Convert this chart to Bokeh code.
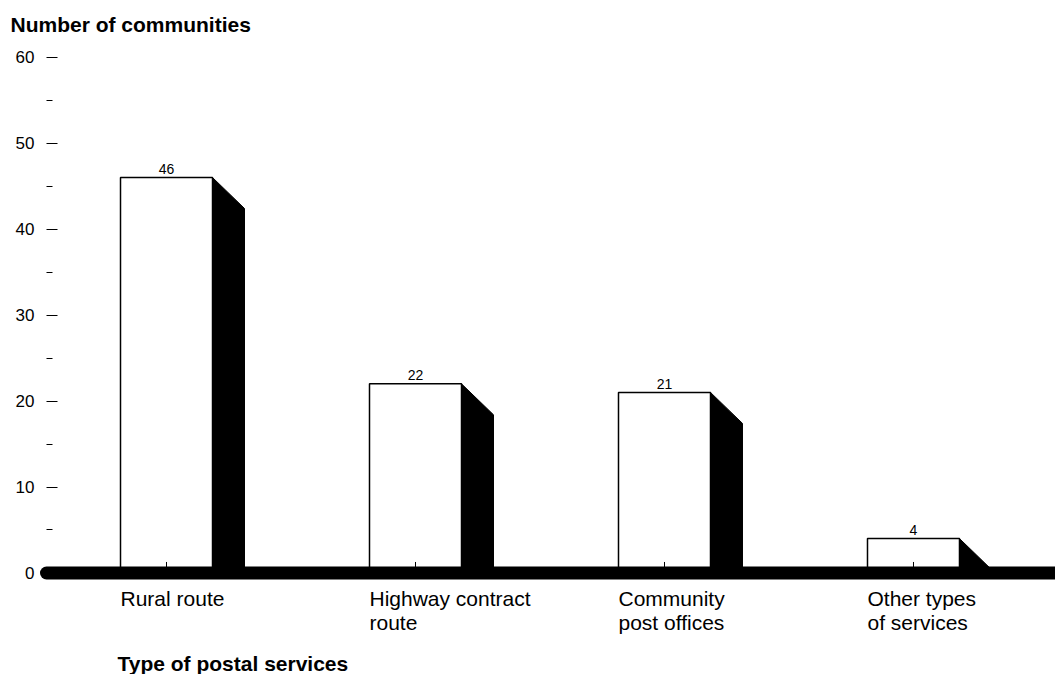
from bokeh.plotting import figure
from bokeh.models import FixedTicker, Range1d, ColumnDataSource
from bokeh.core.properties import value
from bokeh.embed import file_html
from bokeh.resources import INLINE

# ---- data ----
categories = ["Rural route", "Highway contract\nroute", "Community\npost offices", "Other types\nof services"]
counts = [46, 22, 21, 4]
y_ticks = [0, 10, 20, 30, 40, 50, 60]
y_minor_ticks = [5, 15, 25, 35, 45, 55]
y_title = "Number of communities"
x_title = "Type of postal services"

FONT = "Liberation Sans"

# geometry (data units)
BAR_W = 0.3695        # bar width in category units
SHADOW_W = 0.1285     # shadow width
SHADOW_DROP = 3.6     # vertical drop of the slanted shadow top
LABEL_PAD = 0.4       # gap between bar top and its value label

idx = list(range(len(categories)))

p = figure(width=1055, height=674, output_backend="svg", toolbar_location=None,
           x_axis_location=None, y_axis_location="left",
           x_range=Range1d(-0.5141, 3.5703), y_range=Range1d(-11.81, 61.94),
           min_border_left=38, min_border_right=0, min_border_top=40, min_border_bottom=0)
p.outline_line_color = None
p.grid.visible = False
p.background_fill_color = "white"
p.border_fill_color = "white"

# title (y axis title at top left)
p.title.text = y_title
p.title.align = "left"
p.title.offset = -28
p.title.text_font = FONT
p.title.text_font_size = "21px"
p.title.text_font_style = "bold"
p.title.text_color = "black"
p.title.standoff = 9

# y axis
ax = p.yaxis[0]
ax.ticker = FixedTicker(ticks=y_ticks, minor_ticks=y_minor_ticks)
ax.axis_line_color = None
ax.major_tick_in = 19
ax.major_tick_out = -8
ax.minor_tick_in = 14
ax.minor_tick_out = -8
ax.major_tick_line_color = "black"
ax.minor_tick_line_color = "black"
ax.major_label_standoff = 12
ax.major_label_text_font = FONT
ax.major_label_text_font_size = "17px"
ax.major_label_text_color = "black"

# bars
src = ColumnDataSource(dict(x=idx, top=counts,
                            label_y=[c + LABEL_PAD for c in counts],
                            label=[str(c) for c in counts]))
p.vbar(x="x", top="top", bottom=0, width=BAR_W, source=src,
       fill_color="white", line_color="black", line_width=1.5)

# shadows
xs, ys = [], []
for i, v in zip(idx, counts):
    xr = i + BAR_W / 2
    xs.append([xr, xr + SHADOW_W, xr + SHADOW_W, xr])
    ys.append([v, v - SHADOW_DROP, 0, 0])
p.patches(xs, ys, fill_color="black", line_color="black", line_width=1)

# small category ticks
p.segment(x0=idx, y0=[0] * len(idx), x1=idx, y1=[1.28] * len(idx),
          line_color="black", line_width=1)

# baseline
p.line(x=[-0.482, 3.8], y=[0, 0], line_width=13, line_color="black", line_cap="round")

# value labels
p.text(x="x", y="label_y", text="label", source=src, text_align="center",
       text_baseline="bottom",
       text_font=value(FONT), text_font_size="14px", text_color="black")

# category labels
p.text(x=[i - BAR_W / 2 for i in idx], y=[-1.65] * len(idx), text=categories,
       text_align="left", text_baseline="top", text_line_height=1.05,
       text_font=value(FONT), text_font_size="21px", text_color="black")

# x title
p.text(x=[idx[0] - BAR_W / 2], y=[-10.55], text=[x_title], x_offset=-3,
       text_align="left", text_baseline="middle",
       text_font=value(FONT), text_font_size="21px", text_font_style="bold",
       text_color="black")

open("out.html", "w").write(file_html(p, INLINE))
